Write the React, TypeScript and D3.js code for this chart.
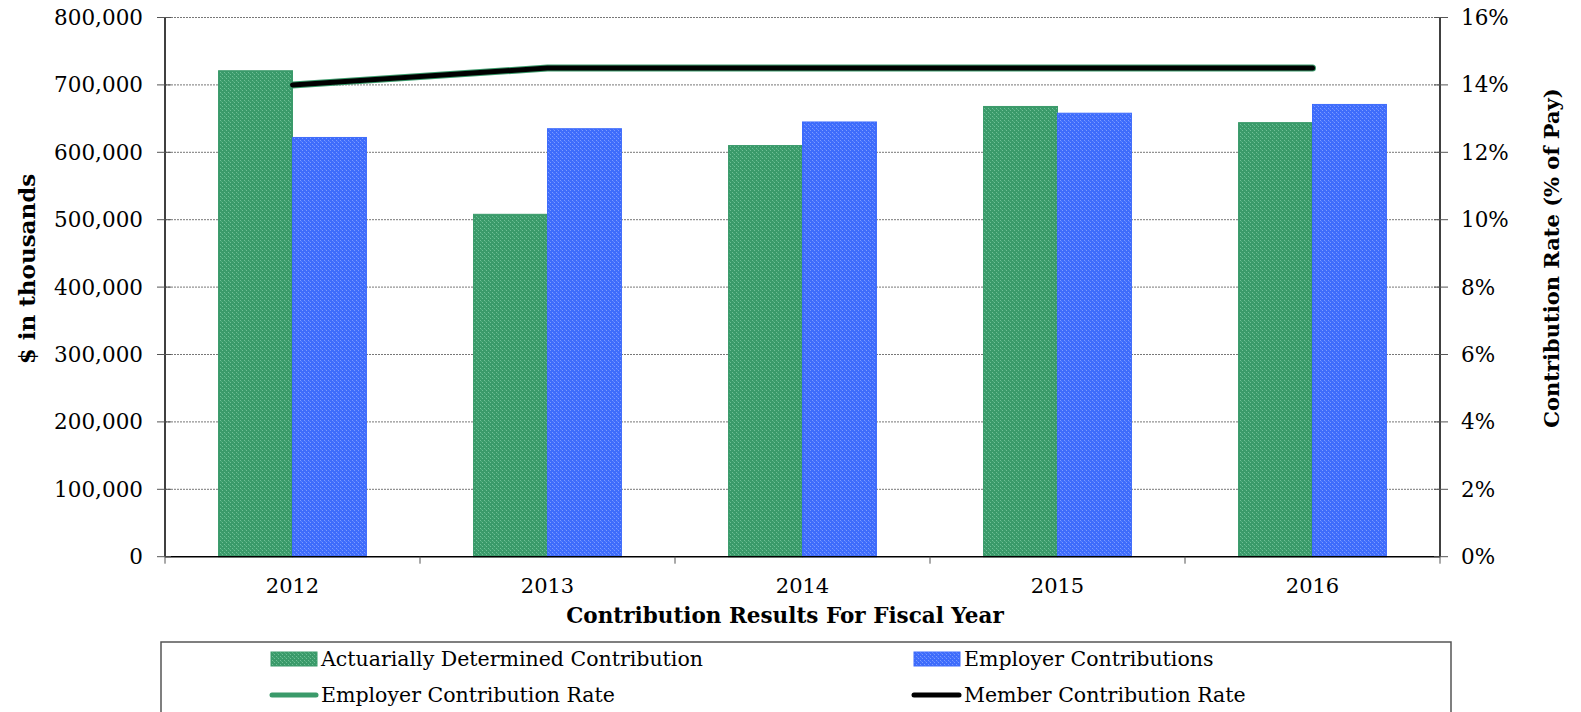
import React from "react";
import * as d3 from "d3";

const years = ["2012", "2013", "2014", "2015", "2016"];
const actuarial = [721000, 508000, 610000, 668000, 644000];
const employer = [622000, 635000, 645000, 658000, 671000];
const employerRate = [14.0, 14.5, 14.5, 14.5, 14.5];
const memberRate = [14.0, 14.5, 14.5, 14.5, 14.5];
const leftTicks = [0, 100000, 200000, 300000, 400000, 500000, 600000, 700000, 800000];
const rightTicks = [0, 2, 4, 6, 8, 10, 12, 14, 16];

const W = 1581, H = 712;
const L = 165, R = 1440, T = 17.5, B = 556.7;
const FONT = "'DejaVu Serif', serif";
const GREEN = "#3a9a6a";
const BLUE = "#3e6cfb";

export default function App() {
  const x = d3.scaleBand().domain(years).range([L, R]).paddingInner(0.42).paddingOuter(0.21);
  const xc = d3.scaleBand().domain(years).range([L, R]);
  const y = d3.scaleLinear().domain([0, 800000]).range([B, T]);
  const y2 = d3.scaleLinear().domain([0, 16]).range([B, T]);
  const bw = x.bandwidth() / 2;
  const fmt = d3.format(",");
  const line = d3.line<number>().x((_, i) => xc(years[i])! + xc.bandwidth() / 2).y((d) => y2(d));

  return (
    <svg width={W} height={H} style={{ position: "absolute", left: 0, top: 0, background: "#fff" }}>
      <defs>
        <pattern id="pg" width="4" height="4" patternUnits="userSpaceOnUse">
          <rect width="4" height="4" fill={GREEN} />
          <rect x="0" y="0" width="1" height="1" fill="#6fc096" />
          <rect x="2" y="2" width="1" height="1" fill="#6fc096" />
          <rect x="1" y="1" width="1" height="1" fill="#4fae7e" />
        </pattern>
        <pattern id="pb" width="4" height="4" patternUnits="userSpaceOnUse">
          <rect width="4" height="4" fill={BLUE} />
          <rect x="0" y="0" width="1" height="1" fill="#7b9bff" />
          <rect x="2" y="2" width="1" height="1" fill="#7b9bff" />
          <rect x="1" y="1" width="1" height="1" fill="#5a82ff" />
        </pattern>
      </defs>
      {leftTicks.slice(1).map((t) => (
        <line key={t} x1={L} x2={R} y1={y(t)} y2={y(t)} stroke="#777" strokeWidth={1} strokeDasharray="2,1" />
      ))}
      {years.map((yr, i) => (
        <g key={yr}>
          <rect x={x(yr)!} y={y(actuarial[i])} width={bw} height={B - y(actuarial[i])} fill="url(#pg)" stroke={GREEN} strokeWidth={1} />
          <rect x={x(yr)! + bw} y={y(employer[i])} width={bw} height={B - y(employer[i])} fill="url(#pb)" stroke={BLUE} strokeWidth={1} />
        </g>
      ))}
      <path d={line(employerRate)!} fill="none" stroke={GREEN} strokeWidth={7} strokeLinecap="round" />
      <path d={line(memberRate)!} fill="none" stroke="#000" strokeWidth={5} strokeLinecap="round" />
      <line x1={L} x2={L} y1={T} y2={B} stroke="#000" strokeWidth={1.5} />
      <line x1={R} x2={R} y1={T} y2={B} stroke="#000" strokeWidth={1.5} />
      <line x1={L} x2={R} y1={B} y2={B} stroke="#000" strokeWidth={1.5} />
      {leftTicks.map((t) => (
        <g key={t}>
          <line x1={157} x2={171} y1={y(t)} y2={y(t)} stroke="#555" strokeWidth={1} />
          <text x={143} y={y(t)} dy="0.35em" textAnchor="end" fontFamily={FONT} fontSize={21.5}>{fmt(t)}</text>
        </g>
      ))}
      {rightTicks.map((t) => (
        <g key={t}>
          <line x1={R - 6} x2={R + 8} y1={y2(t)} y2={y2(t)} stroke="#555" strokeWidth={1} />
          <text x={1461} y={y2(t)} dy="0.35em" textAnchor="start" fontFamily={FONT} fontSize={21.5}>{t + "%"}</text>
        </g>
      ))}
      {years.concat(["end"]).map((yr, i) => (
        <line key={yr} x1={L + i * xc.bandwidth()} x2={L + i * xc.bandwidth()} y1={B} y2={B + 7} stroke="#555" strokeWidth={1} />
      ))}
      {years.map((yr) => (
        <text key={yr} x={xc(yr)! + xc.bandwidth() / 2} y={586} dy="0.35em" textAnchor="middle" fontFamily={FONT} fontSize={21}>{yr}</text>
      ))}
      <text x={785} y={615} dy="0.35em" textAnchor="middle" fontFamily={FONT} fontSize={21.5} fontWeight="bold">Contribution Results For Fiscal Year</text>
      <text transform={`translate(27,${269}) rotate(-90)`} dy="0.35em" textAnchor="middle" fontFamily={FONT} fontSize={23} fontWeight="bold">$ in thousands</text>
      <text transform={`translate(1552,${258}) rotate(-90)`} dy="0.35em" textAnchor="middle" fontFamily={FONT} fontSize={21} fontWeight="bold">Contribution Rate (% of Pay)</text>
      <rect x={161} y={642} width={1290} height={80} fill="none" stroke="#555" strokeWidth={1.5} />
      <rect x={271} y={652} width={46} height={14} fill="url(#pg)" stroke={GREEN} />
      <text x={321} y={659} dy="0.35em" fontFamily={FONT} fontSize={20.5}>Actuarially Determined Contribution</text>
      <rect x={914} y={652} width={46} height={14} fill="url(#pb)" stroke={BLUE} />
      <text x={964} y={659} dy="0.35em" fontFamily={FONT} fontSize={20.5}>Employer Contributions</text>
      <line x1={272} x2={316} y1={695} y2={695} stroke={GREEN} strokeWidth={5} strokeLinecap="round" />
      <text x={321} y={695} dy="0.35em" fontFamily={FONT} fontSize={20.5}>Employer Contribution Rate</text>
      <line x1={914} x2={959} y1={695} y2={695} stroke="#000" strokeWidth={5} strokeLinecap="round" />
      <text x={964} y={695} dy="0.35em" fontFamily={FONT} fontSize={20.5}>Member Contribution Rate</text>
    </svg>
  );
}
